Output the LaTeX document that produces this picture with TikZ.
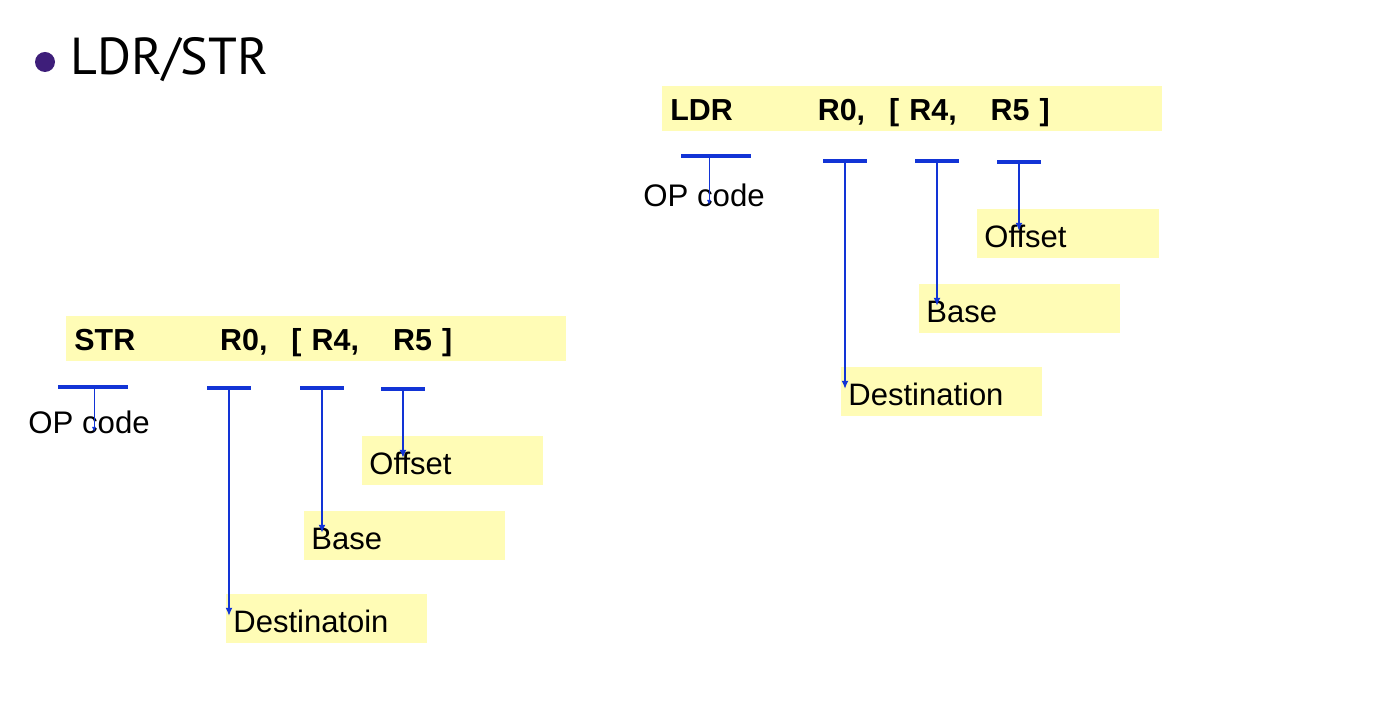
\documentclass[tikz,border=0pt]{standalone}
\usepackage{fontspec}
\setmainfont{Liberation Sans}
\newfontfamily\titlefont{PT Sans}
\usetikzlibrary{arrows.meta}
\definecolor{hilite}{RGB}{255,252,182}
\definecolor{wire}{RGB}{18,52,214}
\definecolor{dotc}{RGB}{62,30,122}
\newcommand{\instr}[1]{\textbf{#1\hspace{42.5pt}R0,\hspace{12pt}[ R4,\hspace{17pt}R5 ]}}
\begin{document}
\begin{tikzpicture}[x=0.5pt, y=-0.5pt,
        band/.style={fill=hilite, anchor=north west, inner xsep=4pt, inner ysep=5.5pt, text width=242pt,
            text height=11.5pt, text depth=0pt, align=left, font=\fontsize{15.2}{18}\selectfont},
        tag/.style={fill=hilite, anchor=north west, inner xsep=3.5pt, inner ysep=5.5pt, text width=93.5pt,
            text height=13.5pt, text depth=0pt, align=left, font=\fontsize{15.5}{18}\selectfont},
        opname/.style={anchor=base west, inner sep=0pt, font=\fontsize{15.6}{18}\selectfont},
        bar/.style={wire, line width=1.6pt},
        ptr/.style={wire, line width=1.2pt, -{Latex[length=4pt,width=3.5pt]}, shorten >=1.5pt},
        thinptr/.style={wire, line width=0.5pt, -{Latex[length=2.5pt,width=2pt]}, shorten >=1pt}]
        \useasboundingbox (0,0) rectangle (1392,704);
        % title
        \fill[dotc] (45,62) circle (5pt);
        \node[anchor=base west, inner sep=0pt, font=\titlefont\fontsize{26}{30}\selectfont] (title) at (70,75) {LDR/STR};
        % LDR
        \node[band] (ldr) at (662,86) {\instr{LDR}};
        \node[opname] (ldrOp) at (643,207) {OP code};
        \node[tag, text width=84pt] (ldrOff) at (977,209) {Offset};
        \node[tag] (ldrBase) at (919,284) {Base};
        \node[tag] (ldrDest) at (841,367) {Destination};
        \draw[bar] (681,156) -- (751,156);
        \coordinate (ldrOpBar) at (709,158);
        \draw[thinptr] (ldrOpBar) -- (ldrOpBar |- ldrOp.base);
        \coordinate (ldrR0) at (845,161);
        \draw[bar] (ldrR0) +(-22,0) -- +(22,0);
        \draw[ptr] (ldrR0) -- (ldrR0 |- ldrDest.west);
        \coordinate (ldrR4) at (937,161);
        \draw[bar] (ldrR4) +(-22,0) -- +(22,0);
        \draw[ptr] (ldrR4) -- (ldrR4 |- ldrBase.west);
        \coordinate (ldrR5) at (1019,162);
        \draw[bar] (ldrR5) +(-22,0) -- +(22,0);
        \draw[ptr] (ldrR5) -- (ldrR5 |- ldrOff.west);
        % STR
        \node[band] (str) at (66,316) {\instr{STR}};
        \node[opname] (strOp) at (28,434) {OP code};
        \node[tag, text width=83.5pt] (strOff) at (362,436) {Offset};
        \node[tag] (strBase) at (304,511) {Base};
        \node[tag] (strDest) at (226,594) {Destinatoin};
        \draw[bar] (58,387) -- (128,387);
        \coordinate (strOpBar) at (94,389);
        \draw[thinptr] (strOpBar) -- (strOpBar |- strOp.base);
        \coordinate (strR0) at (229,388);
        \draw[bar] (strR0) +(-22,0) -- +(22,0);
        \draw[ptr] (strR0) -- (strR0 |- strDest.west);
        \coordinate (strR4) at (322,388);
        \draw[bar] (strR4) +(-22,0) -- +(22,0);
        \draw[ptr] (strR4) -- (strR4 |- strBase.west);
        \coordinate (strR5) at (403,389);
        \draw[bar] (strR5) +(-22,0) -- +(22,0);
        \draw[ptr] (strR5) -- (strR5 |- strOff.west);
\end{tikzpicture}
\end{document}
